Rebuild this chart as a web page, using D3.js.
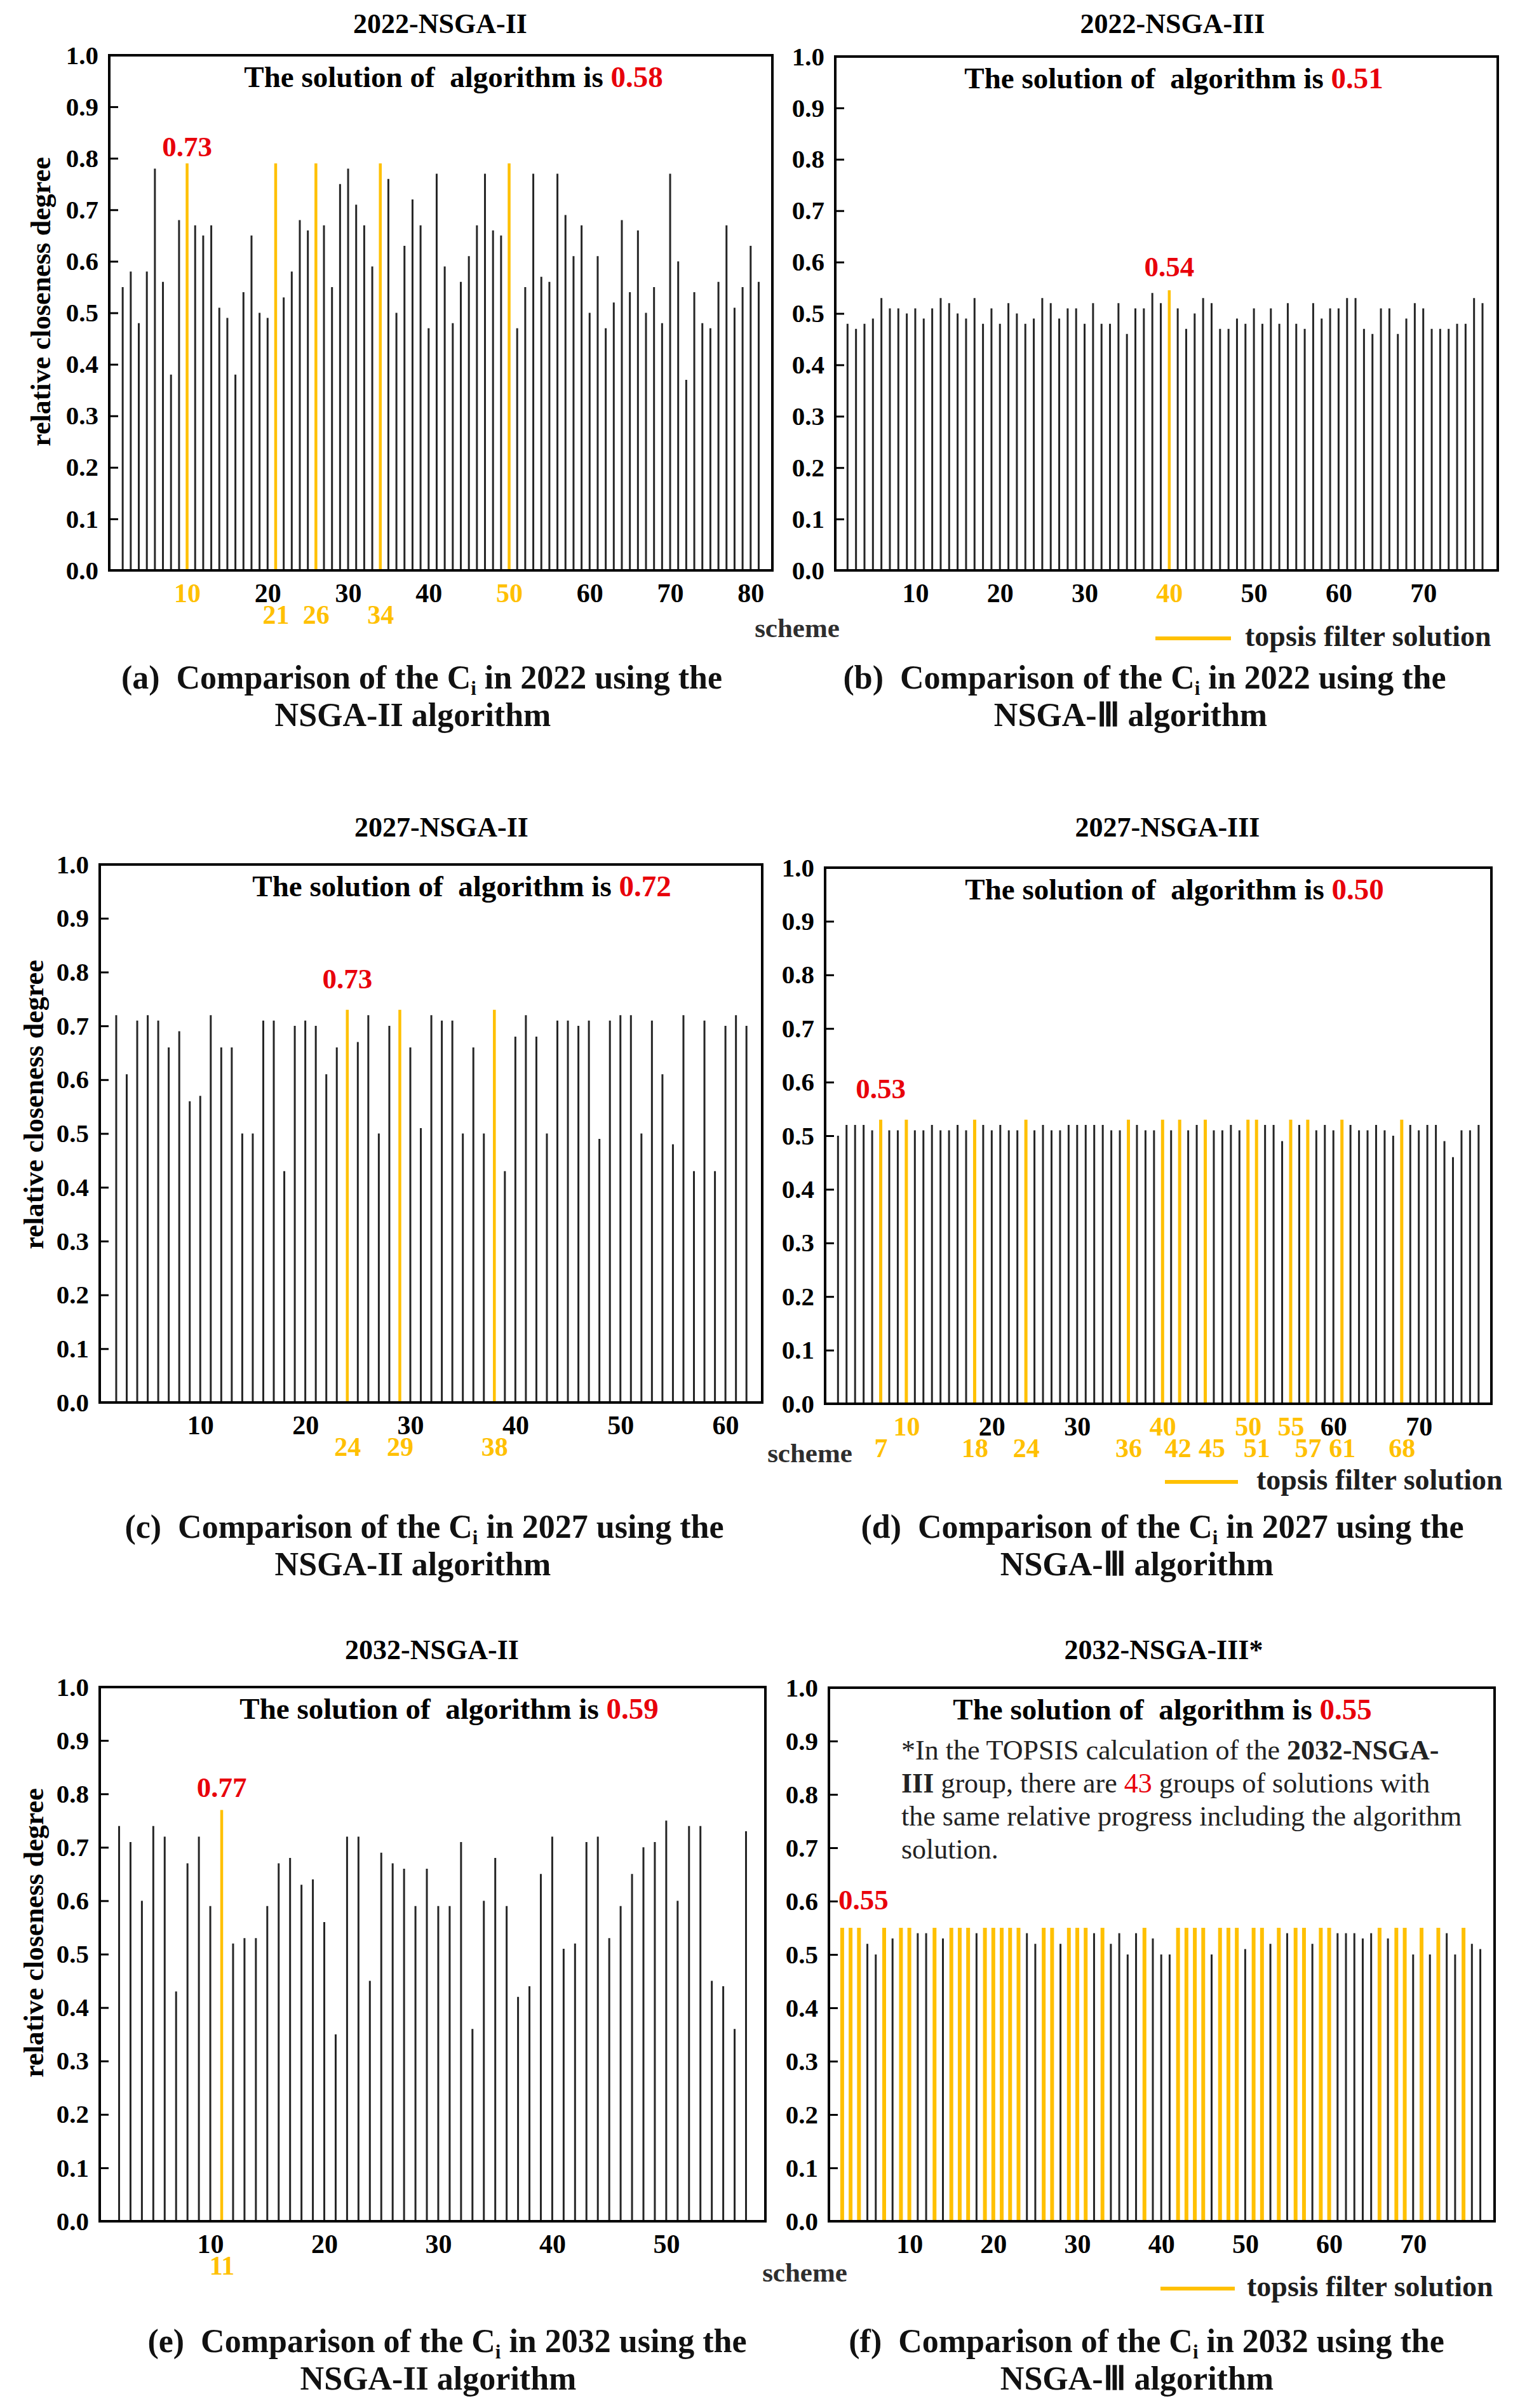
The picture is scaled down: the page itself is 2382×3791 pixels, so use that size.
<!DOCTYPE html>
<html>
<head>
<meta charset="utf-8">
<script src="https://cdn.jsdelivr.net/npm/d3@7"></script>
<style>
  html, body { margin: 0; padding: 0; background: #fff; }
  svg text { font-family: "Liberation Serif", "Times New Roman", serif; }
</style>
</head>
<body>
<svg id="chart" width="2382" height="3791"></svg>
<script>
// Ci (relative closeness degree) of each scheme, every series starts at scheme 2
const firstScheme = 2;

const ci2022nsga2 = [0.55,0.58,0.48,0.58,0.78,0.56,0.38,0.68,0.79,
  0.67,0.65,0.67,0.51,0.49,0.38,0.54,0.65,0.50,0.49,
  0.79,0.53,0.58,0.68,0.66,0.79,0.67,0.55,0.75,0.78,
  0.71,0.67,0.59,0.79,0.76,0.50,0.63,0.72,0.67,0.47,
  0.77,0.59,0.48,0.56,0.61,0.67,0.77,0.66,0.65,0.79,
  0.47,0.55,0.77,0.57,0.56,0.77,0.69,0.61,0.67,0.50,
  0.61,0.47,0.52,0.68,0.54,0.66,0.50,0.55,0.48,0.77,
  0.60,0.37,0.54,0.48,0.47,0.56,0.67,0.51,0.55,0.63,0.56];
const ci2022nsga3 = [0.48,0.47,0.48,0.49,0.53,0.51,0.51,0.50,0.51,
  0.49,0.51,0.53,0.52,0.50,0.49,0.53,0.48,0.51,0.48,
  0.52,0.50,0.48,0.49,0.53,0.52,0.49,0.51,0.51,0.48,
  0.52,0.48,0.48,0.52,0.46,0.51,0.51,0.54,0.52,0.545,
  0.51,0.47,0.50,0.53,0.52,0.47,0.47,0.49,0.48,0.51,
  0.48,0.51,0.48,0.52,0.48,0.47,0.52,0.49,0.51,0.51,
  0.53,0.53,0.47,0.46,0.51,0.51,0.46,0.49,0.52,0.51,
  0.47,0.47,0.47,0.48,0.48,0.53,0.52];
const ci2027nsga2 = [0.72,0.61,0.71,0.72,0.71,0.66,0.69,0.56,0.57,
  0.72,0.66,0.66,0.50,0.50,0.71,0.71,0.43,0.70,0.71,
  0.70,0.61,0.66,0.73,0.67,0.72,0.50,0.70,0.73,0.66,
  0.51,0.72,0.71,0.71,0.50,0.66,0.50,0.73,0.43,0.68,
  0.72,0.68,0.50,0.71,0.71,0.70,0.71,0.49,0.71,0.72,
  0.72,0.50,0.71,0.61,0.48,0.72,0.43,0.71,0.43,0.70,
  0.72,0.70];
const ci2027nsga3 = [0.50,0.52,0.52,0.52,0.51,0.53,0.51,0.51,0.53,
  0.51,0.51,0.52,0.51,0.51,0.52,0.51,0.53,0.52,0.51,
  0.52,0.51,0.51,0.53,0.51,0.52,0.51,0.51,0.52,0.52,
  0.52,0.52,0.52,0.51,0.51,0.53,0.52,0.51,0.51,0.53,
  0.51,0.53,0.51,0.52,0.53,0.51,0.51,0.52,0.51,0.53,
  0.53,0.52,0.52,0.49,0.53,0.52,0.53,0.51,0.52,0.51,
  0.53,0.52,0.51,0.51,0.52,0.51,0.50,0.53,0.52,0.51,
  0.52,0.52,0.49,0.46,0.51,0.51,0.52];
const ci2032nsga2 = [0.74,0.71,0.60,0.74,0.72,0.43,0.67,0.72,0.59,
  0.77,0.52,0.53,0.53,0.59,0.67,0.68,0.63,0.64,0.56,
  0.35,0.72,0.72,0.45,0.69,0.67,0.66,0.59,0.66,0.59,
  0.59,0.71,0.36,0.60,0.68,0.59,0.42,0.44,0.65,0.72,
  0.51,0.52,0.71,0.72,0.53,0.59,0.65,0.70,0.71,0.75,
  0.60,0.74,0.74,0.45,0.44,0.36,0.73];
const ci2032nsga3 = [0.55,0.55,0.55,0.52,0.50,0.55,0.53,0.55,0.55,
  0.54,0.54,0.55,0.53,0.55,0.55,0.55,0.54,0.55,0.55,
  0.55,0.55,0.55,0.54,0.52,0.55,0.55,0.52,0.55,0.55,
  0.55,0.54,0.55,0.52,0.54,0.50,0.54,0.55,0.53,0.50,
  0.50,0.55,0.55,0.55,0.55,0.50,0.55,0.55,0.55,0.51,
  0.55,0.55,0.52,0.55,0.54,0.55,0.55,0.52,0.55,0.55,
  0.54,0.54,0.54,0.53,0.54,0.55,0.53,0.55,0.55,0.50,
  0.55,0.50,0.55,0.54,0.50,0.55,0.52,0.51];

// topsis filter solutions (yellow bars)
const hl2022nsga2 = [10, 21, 26, 34, 50];
const hl2022nsga3 = [40];
const hl2027nsga2 = [24, 29, 38];
const hl2027nsga3 = [7, 10, 18, 24, 36, 40, 42, 45, 50, 51, 55, 57, 61, 68];
const hl2032nsga2 = [11];
const hl2032nsga3 = [2, 3, 4, 7, 9, 10, 13, 15, 16, 17, 19, 20, 21, 22, 23, 26, 27, 29, 30, 31,
  33, 38, 42, 43, 44, 45, 47, 48, 49, 51, 52, 54, 56, 57, 59, 60, 66, 68, 69, 71, 73, 76];

// x tick labels: first row, and the yellow labels pushed to a second row
const ticksTo80 = [10, 20, 30, 40, 50, 60, 70, 80];
const ticksTo70 = [10, 20, 30, 40, 50, 60, 70];
const ticksTo60 = [10, 20, 30, 40, 50, 60];
const ticksTo50 = [10, 20, 30, 40, 50];
const ticks2027nsga3 = [10, 20, 30, 40, 50, 55, 60, 70];
const low2022nsga2 = [21, 26, 34];
const low2027nsga2 = [24, 29, 38];
const low2027nsga3 = [7, 18, 24, 36, 42, 45, 51, 57, 61, 68];
const low2032nsga2 = [11];
const yTickValues = [0, 0.1, 0.2, 0.3, 0.4, 0.5, 0.6, 0.7, 0.8, 0.9, 1.0];

const solutionValues = ["0.58", "0.51", "0.72", "0.50", "0.59", "0.55"];
const markValues = ["0.73", "0.54", "0.73", "0.53", "0.77", "0.55"];
const titles = ["2022-NSGA-II", "2022-NSGA-III", "2027-NSGA-II", "2027-NSGA-III", "2032-NSGA-II", "2032-NSGA-III*"];
const captionLetters = ["(a)", "(b)", "(c)", "(d)", "(e)", "(f)"];
const captionYears = ["2022", "2022", "2027", "2027", "2032", "2032"];
const captionAlgos = ["NSGA-II", "NSGA-\u2162", "NSGA-II", "NSGA-\u2162", "NSGA-II", "NSGA-\u2162"];

const BLACK = "#262626", GOLD = "#FFC000", RED = "#E8000B";

const panels = [
  {values: ci2022nsga2, hl: hl2022nsga2, ticks: ticksTo80, low: low2022nsga2, mark: 10,
   box: [172, 87, 1216, 898], dom: [0.33, 82.7], titleX: 693, titleY: 52, annX: 714, markDy: -11,
   yLabel: [64, 475], cap: [664, 650, 1084, 1143], hlW: 4.5},
  {values: ci2022nsga3, hl: hl2022nsga3, ticks: ticksTo70, low: [], mark: 40,
   box: [1315, 89, 2358, 898], dom: [0.55, 78.8], titleX: 1846, titleY: 52, annX: 1848, markDy: -22,
   legend: [1819, 1938, 1005, 1960], scheme: [1255, 1003], cap: [1802, 1780, 1084, 1143], hlW: 4.5},
  {values: ci2027nsga2, hl: hl2027nsga2, ticks: ticksTo60, low: low2027nsga2, mark: 24,
   box: [157, 1361, 1200, 2208], dom: [0.43, 63.5], titleX: 695, titleY: 1317, annX: 727, markDy: -34,
   yLabel: [53, 1739], cap: [668, 650, 2421, 2480], hlW: 4.5},
  {values: ci2027nsga3, hl: hl2027nsga3, ticks: ticks2027nsga3, low: low2027nsga3, lowDx: {45: 10, 42: -3}, mark: 7,
   box: [1299, 1366, 2348, 2210], dom: [0.49, 78.5], titleX: 1838, titleY: 1317, annX: 1849, markDy: -34,
   legend: [1834, 1949, 2333, 1978], scheme: [1275, 2302], cap: [1830, 1790, 2421, 2480], hlW: 5},
  {values: ci2032nsga2, hl: hl2032nsga2, ticks: ticksTo50, low: low2032nsga2, mark: 11,
   box: [157, 2656, 1205, 3497], dom: [0.30, 58.7], titleX: 680, titleY: 2612, annX: 707, markDy: -20,
   yLabel: [53, 3043], cap: [704, 690, 3703, 3762], hlW: 4.5},
  {values: ci2032nsga3, hl: hl2032nsga3, ticks: ticksTo70, low: [], mark: 2, markAnchor: "start", plainTicks: true,
   box: [1305, 2657, 2353, 3497], dom: [0.42, 79.7], titleX: 1832, titleY: 2612, annX: 1830, markDy: -29,
   legend: [1827, 1944, 3603, 1963], scheme: [1267, 3592], cap: [1805, 1790, 3703, 3762], hlW: 6}
];

const svg = d3.select("#chart");
svg.append("rect").attr("width", 2382).attr("height", 3791).attr("fill", "#fff");

panels.forEach((p, k) => {
  const [left, top, right, bottom] = p.box;
  const x = d3.scaleLinear().domain(p.dom).range([left, right]);
  const y = d3.scaleLinear().domain([0, 1]).range([bottom, top]);
  const g = svg.append("g");
  const rows = p.values.map((v, i) => ({s: i + firstScheme, v: v, hl: p.hl.includes(i + firstScheme)}));

  // black bars first, yellow ones on top
  g.selectAll("line.bar")
    .data(rows.filter(d => !d.hl).concat(rows.filter(d => d.hl)))
    .enter().append("line")
    .attr("class", "bar")
    .attr("x1", d => x(d.s)).attr("x2", d => x(d.s))
    .attr("y1", y(0)).attr("y2", d => y(d.v))
    .attr("stroke", d => d.hl ? GOLD : BLACK)
    .attr("stroke-width", d => d.hl ? p.hlW : 3);

  g.append("rect")
    .attr("x", left).attr("y", top)
    .attr("width", right - left).attr("height", bottom - top)
    .attr("fill", "none").attr("stroke", "#000").attr("stroke-width", 4);

  // y axis, ticks point inward
  const ya = g.append("g").attr("transform", "translate(" + left + ",0)")
    .call(d3.axisLeft(y).tickValues(yTickValues).tickSize(-14).tickPadding(17).tickFormat(d3.format(".1f")));
  ya.select(".domain").remove();
  ya.selectAll(".tick line").attr("stroke", "#000").attr("stroke-width", 3);
  ya.selectAll(".tick text").attr("font-size", 41).attr("font-weight", "bold").attr("fill", "#000")
    .style("font-family", "'Liberation Serif', serif");

  // x tick labels (no tick marks)
  const xa = g.append("g").attr("transform", "translate(0," + bottom + ")")
    .call(d3.axisBottom(x).tickValues(p.ticks).tickSize(0).tickPadding(20).tickFormat(d3.format("d")));
  xa.select(".domain").remove();
  xa.selectAll(".tick text").attr("font-size", 42).attr("font-weight", "bold")
    .attr("fill", d => (!p.plainTicks && p.hl.includes(d)) ? GOLD : "#000")
    .style("font-family", "'Liberation Serif', serif");
  if (p.low.length) {
    const xl = g.append("g").attr("transform", "translate(0," + bottom + ")")
      .call(d3.axisBottom(x).tickValues(p.low).tickSize(0).tickPadding(54).tickFormat(d3.format("d")));
    xl.select(".domain").remove();
    xl.selectAll(".tick text").attr("font-size", 42).attr("font-weight", "bold").attr("fill", GOLD)
      .attr("dx", d => (p.lowDx && p.lowDx[d]) || 0)
      .style("font-family", "'Liberation Serif', serif");
  }

  // title
  g.append("text").attr("x", p.titleX).attr("y", p.titleY).attr("text-anchor", "middle")
    .attr("font-size", 44).attr("font-weight", "bold").text(titles[k]);

  // solution annotation
  const ann = g.append("text").attr("x", p.annX).attr("y", top + 50).attr("text-anchor", "middle")
    .attr("font-size", 47).attr("font-weight", "bold");
  ann.append("tspan").text("The solution of \u00a0algorithm is ");
  ann.append("tspan").attr("fill", RED).text(solutionValues[k]);

  // value of the marked topsis bar
  const markRow = rows.find(d => d.s === p.mark);
  g.append("text").attr("x", x(p.mark) - (p.markAnchor ? 6 : 0)).attr("y", y(markRow.v) + p.markDy)
    .attr("text-anchor", p.markAnchor || "middle")
    .attr("font-size", 45).attr("font-weight", "bold").attr("fill", RED).text(markValues[k]);

  if (p.yLabel) {
    g.append("text").attr("transform", "translate(" + p.yLabel[0] + "," + p.yLabel[1] + ") rotate(-90)")
      .attr("text-anchor", "middle").attr("dominant-baseline", "central")
      .attr("font-size", 44).attr("font-weight", "bold").text("relative closeness degree");
  }
  if (p.scheme) {
    g.append("text").attr("x", p.scheme[0]).attr("y", p.scheme[1]).attr("text-anchor", "middle")
      .attr("font-size", 43).attr("font-weight", "bold").attr("fill", "#2e2e2e").text("scheme");
  }
  if (p.legend) {
    g.append("line").attr("x1", p.legend[0]).attr("x2", p.legend[1])
      .attr("y1", p.legend[2]).attr("y2", p.legend[2])
      .attr("stroke", GOLD).attr("stroke-width", 6);
    g.append("text").attr("x", p.legend[3]).attr("y", p.legend[2] + 12)
      .attr("font-size", 46).attr("font-weight", "bold").attr("fill", "#1e1e1e").text("topsis filter solution");
  }

  // caption
  const c1 = g.append("text").attr("x", p.cap[0]).attr("y", p.cap[2]).attr("text-anchor", "middle")
    .attr("font-size", 52).attr("font-weight", "bold").attr("fill", "#111");
  c1.append("tspan").text(captionLetters[k] + "\u00a0 Comparison of the C");
  c1.append("tspan").attr("font-size", 31).attr("dy", 10).text("i");
  c1.append("tspan").attr("dy", -10).text(" in " + captionYears[k] + " using the");
  g.append("text").attr("x", p.cap[1]).attr("y", p.cap[3]).attr("text-anchor", "middle")
    .attr("font-size", 52).attr("font-weight", "bold").attr("fill", "#111")
    .text(captionAlgos[k] + " algorithm");
});

// footnote in the 2032-NSGA-III panel
const noteLines = [
  [["*In the TOPSIS calculation of the ", "n"], ["2032-NSGA-", "b"]],
  [["III", "b"], [" group, there are ", "n"], ["43", "r"], [" groups of solutions with", "n"]],
  [["the same relative progress including the algorithm", "n"]],
  [["solution.", "n"]]
];
const note = svg.append("text").attr("font-size", 44).attr("fill", "#222");
noteLines.forEach((line, i) => {
  line.forEach((part, j) => {
    const t = note.append("tspan").text(part[0])
      .attr("font-weight", part[1] === "b" ? "bold" : "normal")
      .attr("fill", part[1] === "r" ? RED : "#222");
    if (j === 0) t.attr("x", 1419).attr("y", 2770 + i * 52);
  });
});
</script>
</body>
</html>
